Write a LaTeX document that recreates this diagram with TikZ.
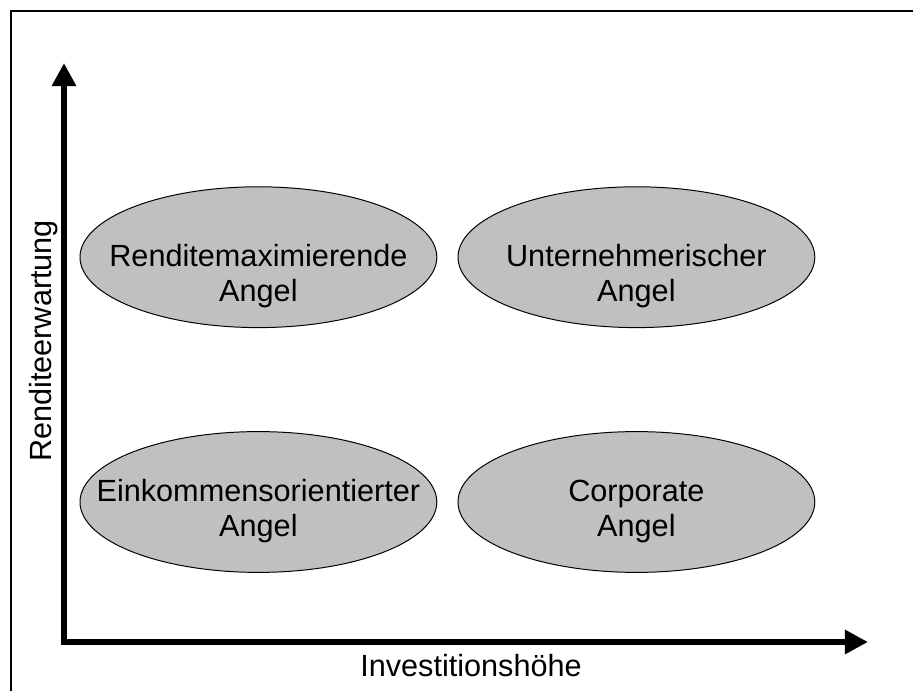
\documentclass[tikz,border=0pt]{standalone}
\usepackage{fontspec}
\setmainfont{Liberation Sans}
\usetikzlibrary{arrows.meta,shapes.geometric}
\definecolor{angelgray}{RGB}{192,192,192}
\tikzset{
  angel/.style={ellipse,draw,fill=angelgray,line width=0.7pt,minimum width=8.92cm,minimum height=3.52cm,inner sep=0pt},
  angeltext/.style={align=center,inner sep=0pt,font=\fontsize{21.8}{25.2}\selectfont},
  axislabel/.style={inner sep=0pt,font=\fontsize{21.8}{25.2}\selectfont},
  axis/.style={line width=4.3pt,-{Triangle[length=0.58cm,width=0.58cm]}}
}
\begin{document}
\begin{tikzpicture}
\useasboundingbox (0,0) rectangle (22.825,17.25);
\begin{scope}
\clip (0,0) rectangle (22.825,17.25);
\draw[line width=1.6pt] (0.275,-1) rectangle (24,16.975);
\end{scope}
% axes
\coordinate (o) at (1.6,1.2);
\coordinate (ytip) at (1.6,15.675);
\coordinate (xtip) at (21.7,1.2);
\draw[axis] ([yshift=-2.15pt]o) -- (ytip);
\draw[axis] ([xshift=-2.15pt]o) -- (xtip);
\node[axislabel,rotate=90] (yl) at (1.1,8.725) {Renditeerwartung};
\node[axislabel] (xl) at (11.775,0.6) {Investitionshöhe};
% quadrants
\node[angel] (rm) at (6.46,10.82) {};
\node[angel] (un) at (15.91,10.82) {};
\node[angel] (ek) at (6.46,4.7) {};
\node[angel] (co) at (15.91,4.7) {};
\node[angeltext] (rmt) at ([yshift=-0.47cm]rm.center) {Renditemaximierende\\Angel};
\node[angeltext] (unt) at ([yshift=-0.47cm]un.center) {Unternehmerischer\\Angel};
\node[angeltext] (ekt) at ([yshift=-0.23cm]ek.center) {Einkommensorientierter\\Angel};
\node[angeltext] (cot) at ([yshift=-0.23cm]co.center) {Corporate\\Angel};
\end{tikzpicture}
\end{document}
